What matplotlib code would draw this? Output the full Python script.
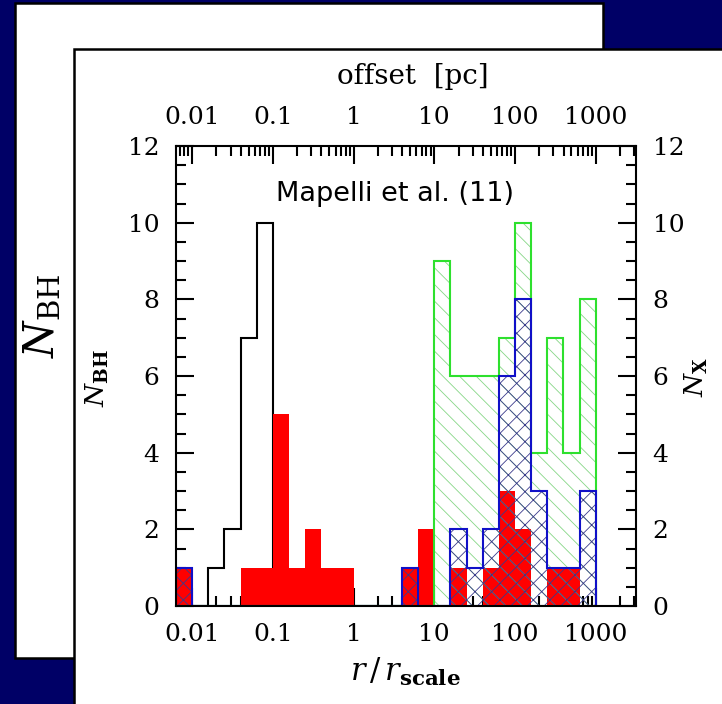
import numpy as np
import matplotlib
matplotlib.use("Agg")
import matplotlib.pyplot as plt
from matplotlib.patches import Rectangle
from matplotlib.ticker import LogLocator, NullFormatter, MultipleLocator

plt.rcParams['mathtext.fontset'] = 'dejavuserif'
plt.rcParams['hatch.linewidth'] = 0.6

W, H = 722, 704
NAVY = '#000066'

# Histogram bins: 0.2 dex wide, from 10^-2.2 to 10^3.0
log_edges = np.round(np.arange(-2.2, 3.0001, 0.2), 1)
edges = 10.0 ** log_edges

# Counts per bin (26 bins)
#                 -2.2          -1.2          -0.2          0.8           1.8           2.8
n_all_bh     = [0, 0, 1, 2, 7, 10, 0, 0, 0, 0, 0, 0, 0, 0, 0, 0, 0, 0, 0, 0, 0, 0, 0, 0, 0, 0]
n_sel_bh     = [1, 0, 0, 0, 1, 1, 5, 1, 2, 1, 1, 0, 0, 0, 1, 2, 0, 1, 0, 1, 3, 2, 0, 1, 1, 0]
n_x_all      = [0, 0, 0, 0, 0, 0, 0, 0, 0, 0, 0, 0, 0, 0, 0, 0, 9, 6, 6, 6, 7, 10, 4, 7, 4, 8]
n_x_sel      = [1, 0, 0, 0, 0, 0, 0, 0, 0, 0, 0, 0, 0, 0, 1, 0, 0, 2, 1, 2, 6, 8, 3, 1, 1, 3]

x_ticks = [0.01, 0.1, 1, 10, 100, 1000]
x_ticklabels = ['0.01', '0.1', '1', '10', '100', '1000']
y_ticks = [0, 2, 4, 6, 8, 10, 12]


def fx(x):
    return x / W


def fy(y):
    return 1 - y / H


fig = plt.figure(figsize=(W / 100, H / 100), dpi=100, facecolor=NAVY)

# Slide pages: one behind, one in front
fig.patches.append(Rectangle((fx(15), fy(658)), fx(603) - fx(15), fy(3) - fy(658),
                             transform=fig.transFigure, facecolor='white',
                             edgecolor='black', lw=1.8, zorder=-3))
fig.patches.append(Rectangle((fx(74), fy(720)), fx(740) - fx(74), fy(49) - fy(720),
                             transform=fig.transFigure, facecolor='white',
                             edgecolor='black', lw=1.8, zorder=-2))

fig.text(fx(42), fy(316), r'$N_{\rm BH}$', rotation=90, ha='center', va='center',
         fontsize=30, color='black', zorder=-2.5)

ax = fig.add_axes([fx(176), fy(606), fx(636) - fx(176), fy(146) - fy(606)])
ax.set_facecolor('white')
ax.set_xscale('log')
ax.set_xlim(10 ** -2.2, 10 ** 3.5)
ax.set_ylim(0, 12)

# Black outline: all black holes
ax.stairs(n_all_bh, edges, fill=False, color='black', lw=1.5, baseline=0, zorder=2)
# Red filled bars
ax.stairs(n_sel_bh, edges, fill=True, facecolor='#ff0000', edgecolor='none', lw=0, zorder=3)
# Green hatched histogram
ax.stairs(n_x_all, edges, fill=True, facecolor='none', edgecolor='#86d686', lw=0,
          hatch='\\\\', zorder=4)
ax.stairs(n_x_all, edges, fill=False, color='#2ee02e', lw=1.5, baseline=0, zorder=5)
# Blue cross-hatched histogram
ax.stairs(n_x_sel, edges, fill=True, facecolor='none', edgecolor='#3a3a8c', lw=0,
          hatch='xx', zorder=6)
ax.stairs(n_x_sel, edges, fill=False, color='#1010c8', lw=1.5, baseline=0, zorder=7)

ax.set_xticks(x_ticks, x_ticklabels)
ax.xaxis.set_minor_locator(LogLocator(base=10, subs=np.arange(2, 10), numticks=20))
ax.xaxis.set_minor_formatter(NullFormatter())
ax.set_yticks(y_ticks)
ax.yaxis.set_minor_locator(MultipleLocator(0.5))

for s in ax.spines.values():
    s.set_linewidth(1.5)
    s.set_zorder(10)

ax.tick_params(which='both', direction='in', top=True, right=True, width=1.5,
               labeltop=True, labelright=True, labelsize=18)
ax.tick_params(axis='x', pad=12)
ax.tick_params(axis='y', pad=12)
ax.tick_params(which='major', length=13)
ax.tick_params(which='minor', length=7)
for t in ax.xaxis.get_major_ticks() + ax.yaxis.get_major_ticks():
    t.label1.set_fontfamily('DejaVu Serif')
    t.label2.set_fontfamily('DejaVu Serif')

ax.text(0.475, 0.895, 'Mapelli et al. (11)', transform=ax.transAxes, ha='center',
        va='center', fontsize=19.5, family='DejaVu Sans', zorder=11)

fig.text(fx(413), fy(76), 'offset  [pc]', ha='center', va='center', fontsize=20,
         family='DejaVu Serif')
fig.text(fx(405), fy(672), r'$r\,/\,r_{\mathbf{scale}}$', ha='center', va='center',
         fontsize=22)
fig.text(fx(97), fy(378), r'$N_{\mathbf{BH}}$', rotation=90, ha='center', va='center',
         fontsize=19)
fig.text(fx(696), fy(377), r'$N_{\mathbf{X}}$', rotation=90, ha='center', va='center',
         fontsize=19)

fig.savefig('out.png', dpi=100, facecolor=NAVY)
